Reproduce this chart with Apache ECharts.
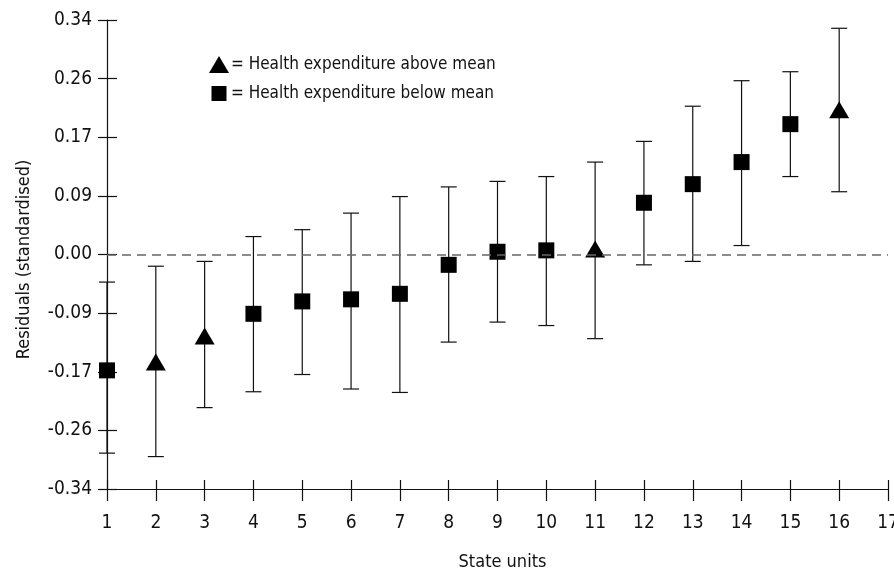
<!DOCTYPE html>
<html>
<head>
<meta charset="utf-8">
<title>Residuals by state unit</title>
<script src="https://cdn.jsdelivr.net/npm/echarts@6/dist/echarts.min.js"></script>
<style>
  html, body { margin: 0; padding: 0; background: #fff; }
  #chart { width: 894px; height: 571px; }
</style>
</head>
<body>
<div id="chart"></div>
<script>
// values
var states = [1, 2, 3, 4, 5, 6, 7, 8, 9, 10, 11, 12, 13, 14, 15, 16];
var residuals = [-0.168, -0.156, -0.118, -0.086, -0.068, -0.065, -0.057, -0.015, 0.004, 0.006, 0.008, 0.075, 0.102, 0.134, 0.189, 0.210];
var lowerBound = [-0.288, -0.293, -0.222, -0.199, -0.174, -0.195, -0.200, -0.127, -0.098, -0.103, -0.122, -0.015, -0.010, 0.013, 0.113, 0.091];
var upperBound = [-0.040, -0.017, -0.010, 0.026, 0.036, 0.060, 0.084, 0.098, 0.106, 0.113, 0.134, 0.164, 0.215, 0.252, 0.265, 0.328];
var spending = ['below', 'above', 'above', 'below', 'below', 'below', 'below', 'below',
                'below', 'below', 'above', 'below', 'below', 'below', 'below', 'above'];

var FONT = '"Liberation Sans Narrow", "DejaVu Sans Condensed", Roboto, sans-serif';
var INK = '#111';

var aboveData = [], belowData = [], barData = [];
for (var i = 0; i < states.length; i++) {
  var p = [states[i], residuals[i]];
  if (spending[i] === 'above') aboveData.push(p); else belowData.push(p);
  barData.push([states[i], lowerBound[i], upperBound[i]]);
}

function fmtY(v) {
  var s = (Math.round(Math.abs(v) * 100 + 1e-6) / 100).toFixed(2);
  return (v < -1e-9 ? '-' : '') + s;
}

// legend square drawn smaller than the triangle: padded path box
var legendSquare = 'path://M0,0M20,17M2.5,1H17.5V16H2.5Z';

var chart = echarts.init(document.getElementById('chart'));

chart.setOption({
  animation: false,
  backgroundColor: '#fff',
  grid: { left: 107, right: 6, top: 20, bottom: 82, containLabel: false, outerBoundsMode: 'none' },
  legend: {
    orient: 'vertical',
    left: 204,
    top: 51,
    itemGap: 12,
    itemWidth: 20,
    itemHeight: 17,
    data: [
      { name: 'Health expenditure above mean', icon: 'triangle' },
      { name: 'Health expenditure below mean', icon: legendSquare }
    ],
    formatter: function (name) { return '= ' + name; },
    textStyle: { fontFamily: FONT, fontSize: 17, color: INK, padding: [0, 0, 0, -3] }
  },
  xAxis: [{
    type: 'value',
    min: 1, max: 17, interval: 1,
    name: 'State units',
    nameLocation: 'middle',
    nameGap: 64,
    nameTextStyle: { fontFamily: FONT, fontSize: 18, color: INK, padding: [0, 0, 0, 10] },
    axisLine: { show: true, onZero: false, lineStyle: { color: INK, width: 1.2 } },
    axisTick: { show: true, length: 12, lineStyle: { color: INK, width: 1.2 } },
    axisLabel: { margin: 25, fontFamily: FONT, fontSize: 19, color: INK },
    splitLine: { show: false }
  }, {
    type: 'value',
    position: 'bottom',
    min: 1, max: 17, interval: 1,
    axisLine: { show: false, onZero: false },
    axisTick: { show: true, inside: true, length: 9, lineStyle: { color: INK, width: 1.2 } },
    axisLabel: { show: false },
    splitLine: { show: false }
  }],
  yAxis: [{
    type: 'value',
    min: -0.34, max: 0.34, interval: 0.085,
    name: 'Residuals (standardised)',
    nameLocation: 'middle',
    nameGap: 74,
    nameTextStyle: { fontFamily: FONT, fontSize: 18, color: INK, padding: [0, 10, 0, 0] },
    axisLine: { show: true, onZero: false, lineStyle: { color: INK, width: 1.2 } },
    axisTick: { show: true, length: 9, lineStyle: { color: INK, width: 1.2 } },
    axisLabel: { margin: 15, fontFamily: FONT, fontSize: 19, color: INK, formatter: fmtY },
    splitLine: { show: false }
  }, {
    type: 'value',
    position: 'left',
    min: -0.34, max: 0.34, interval: 0.085,
    axisLine: { show: false, onZero: false },
    axisTick: { show: true, inside: true, length: 10, lineStyle: { color: INK, width: 1.2 } },
    axisLabel: { show: false },
    splitLine: { show: false }
  }],
  series: [{
    type: 'custom',
    name: 'error bars',
    clip: false,
    z: 2,
    data: barData,
    renderItem: function (params, api) {
      var x = api.value(0);
      var lo = api.coord([x, api.value(1)]);
      var hi = api.coord([x, api.value(2)]);
      var half = 8;
      var style = { stroke: INK, lineWidth: 1.2 };
      return {
        type: 'group',
        children: [
          { type: 'line', shape: { x1: lo[0], y1: lo[1], x2: hi[0], y2: hi[1] }, style: style },
          { type: 'line', shape: { x1: lo[0] - half, y1: lo[1], x2: lo[0] + half, y2: lo[1] }, style: style },
          { type: 'line', shape: { x1: hi[0] - half, y1: hi[1], x2: hi[0] + half, y2: hi[1] }, style: style }
        ]
      };
    },
    markLine: {
      silent: true,
      symbol: 'none',
      label: { show: false },
      lineStyle: { color: '#666', width: 1.5, type: [9, 6] },
      data: [{ yAxis: 0 }]
    }
  }, {
    type: 'scatter',
    name: 'Health expenditure above mean',
    symbol: 'triangle',
    symbolSize: [20, 17],
    clip: false,
    z: 3,
    itemStyle: { color: '#000', opacity: 1 },
    data: aboveData
  }, {
    type: 'scatter',
    name: 'Health expenditure below mean',
    symbol: 'rect',
    symbolSize: 16,
    clip: false,
    z: 3,
    itemStyle: { color: '#000', opacity: 1 },
    data: belowData
  }]
});
</script>
</body>
</html>
